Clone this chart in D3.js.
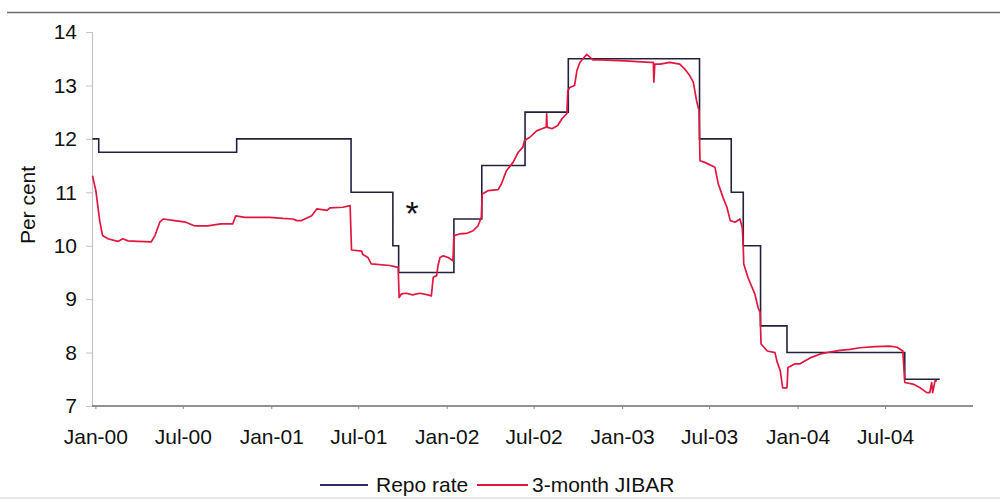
<!DOCTYPE html>
<html>
<head>
<meta charset="utf-8">
<script src="https://cdn.jsdelivr.net/npm/d3@7/dist/d3.min.js"></script>
<style>
  html, body { margin: 0; padding: 0; background: #fff; }
  svg { display: block; }
  text { font-family: "Liberation Sans", Arial, Helvetica, sans-serif; fill: #111; }
</style>
</head>
<body>
<svg id="chart" width="1000" height="502"></svg>
<script>
// ---------- DATA ----------
const yTicks = [7, 8, 9, 10, 11, 12, 13, 14];
const xTickDates = ["2000-01-01","2000-07-01","2001-01-01","2001-07-01","2002-01-01",
                    "2002-07-01","2003-01-01","2003-07-01","2004-01-01","2004-07-01"];
const xTickLabels = ["Jan-00","Jul-00","Jan-01","Jul-01","Jan-02","Jul-02","Jan-03","Jul-03","Jan-04","Jul-04"];
const seriesNames = ["Repo rate", "3-month JIBAR"];

// Repo rate: date of change, new rate (step function)
const repoDates = ["1999-12-26","2000-01-08","2000-10-21","2001-06-16","2001-09-11","2001-09-23",
                   "2002-01-16","2002-03-15","2002-06-13","2002-09-11","2003-06-11","2003-08-16",
                   "2003-09-10","2003-10-16","2003-12-10","2004-08-11","2004-10-23"];
const repoValues = [12, 11.75, 12, 11, 10, 9.5, 10.5, 11.5, 12.5, 13.5, 12, 11, 10, 8.5, 8, 7.5, 7.5];

// 3-month JIBAR
const jibarDates = [
 "1999-12-26","2000-01-02","2000-01-10","2000-01-16","2000-01-27","2000-02-17","2000-02-27","2000-03-09",
 "2000-03-29","2000-04-26","2000-05-04","2000-05-14","2000-05-21","2000-06-14","2000-07-07","2000-07-26",
 "2000-08-22","2000-09-18","2000-10-13","2000-10-19","2000-11-07","2000-12-04","2000-12-29","2001-01-25",
 "2001-02-15","2001-02-23","2001-03-05","2001-03-26","2001-04-06","2001-04-27","2001-05-03","2001-05-30",
 "2001-06-14","2001-06-17","2001-07-08","2001-07-10","2001-07-21","2001-07-28","2001-09-05","2001-09-19",
 "2001-09-22","2001-09-24","2001-09-29","2001-10-09","2001-10-22","2001-11-06","2001-11-23","2001-11-30",
 "2001-12-04","2001-12-11","2001-12-14","2001-12-18","2001-12-25","2002-01-04","2002-01-14","2002-01-16",
 "2002-01-28","2002-02-11","2002-02-25","2002-03-07","2002-03-14","2002-03-16","2002-03-28","2002-04-18",
 "2002-04-25","2002-05-05","2002-05-19","2002-05-30","2002-06-08","2002-06-12","2002-06-23","2002-07-07",
 "2002-07-18","2002-07-27","2002-07-28","2002-07-29","2002-08-08","2002-08-20","2002-08-29","2002-09-08",
 "2002-09-10","2002-09-14","2002-09-24","2002-09-29","2002-10-05","2002-10-19","2002-10-26","2002-11-01",
 "2002-11-16","2003-01-07","2003-02-28","2003-03-07","2003-03-08","2003-03-10","2003-03-21","2003-04-10",
 "2003-05-01","2003-05-12","2003-05-22","2003-05-29","2003-06-05","2003-06-10","2003-06-12","2003-06-22",
 "2003-07-13","2003-07-20","2003-07-30","2003-08-07","2003-08-14","2003-08-24","2003-09-03","2003-09-08",
 "2003-09-10","2003-09-11","2003-09-20","2003-10-04","2003-10-11","2003-10-15","2003-10-16","2003-10-17",
 "2003-10-30","2003-11-15","2003-11-19","2003-11-26","2003-12-01","2003-12-10","2003-12-12","2003-12-27",
 "2004-01-06","2004-01-27","2004-02-16","2004-03-08","2004-03-29","2004-04-19","2004-05-10","2004-06-10",
 "2004-07-11","2004-07-26","2004-08-07","2004-08-11","2004-08-28","2004-09-12","2004-09-26","2004-10-02",
 "2004-10-06","2004-10-08","2004-10-13","2004-10-17"];
const jibarValues = [
 11.31,11.03,10.47,10.19,10.13,10.08,10.13,10.09,
 10.08,10.07,10.19,10.44,10.50,10.47,10.44,10.37,
 10.37,10.41,10.41,10.56,10.53,10.53,10.53,10.51,
 10.50,10.47,10.47,10.56,10.69,10.66,10.71,10.72,
 10.75,9.92,9.90,9.84,9.78,9.66,9.63,9.60,
 9.60,9.03,9.10,9.11,9.08,9.11,9.08,9.06,
 9.41,9.44,9.63,9.78,9.81,9.78,9.72,10.19,
 10.22,10.23,10.28,10.37,10.53,10.97,11.03,11.05,
 11.16,11.40,11.56,11.75,11.84,11.97,12.03,12.15,
 12.19,12.22,12.47,12.22,12.19,12.25,12.38,12.47,
 12.90,12.96,13.00,13.28,13.43,13.58,13.53,13.48,
 13.48,13.46,13.43,13.43,13.06,13.40,13.40,13.43,
 13.40,13.30,13.18,13.06,12.71,12.53,11.59,11.56,
 11.47,11.16,10.90,10.72,10.47,10.44,10.50,10.34,
 9.97,9.66,9.40,9.10,8.84,8.75,8.47,8.16,
 8.03,8.00,7.84,7.66,7.34,7.34,7.72,7.79,
 7.79,7.90,7.97,8.01,8.04,8.06,8.09,8.11,
 8.12,8.10,8.03,7.44,7.41,7.34,7.25,7.25,
 7.44,7.25,7.47,7.47];

const annotationText = "*";
const annotationDate = "2001-10-21";
const annotationValue = 10.39;

// ---------- CHART ----------
const parse = d3.timeParse("%Y-%m-%d");
const repo = repoDates.map((d, i) => ({ date: parse(d), value: repoValues[i] }));
const jibar = jibarDates.map((d, i) => ({ date: parse(d), value: jibarValues[i] }));

const repoColor = "#22223f";
const jibarColor = "#e0173f";

const svg = d3.select("#chart");

// scanned-page frame lines
svg.append("line").attr("x1", 7).attr("x2", 1000).attr("y1", 12.5).attr("y2", 12.5)
   .attr("stroke", "#6a6a6a").attr("stroke-width", 1.4);
svg.append("line").attr("x1", 0).attr("x2", 1000).attr("y1", 498).attr("y2", 498)
   .attr("stroke", "#cfcfcf").attr("stroke-width", 1.2);

const x = d3.scaleTime()
  .domain([parse("1999-12-25"), parse("2004-12-31")])
  .range([92, 973]);
const y = d3.scaleLinear().domain([7, 14]).range([406, 32]);

// Y axis
const yAxis = svg.append("g").attr("transform", "translate(92,0)")
  .call(d3.axisLeft(y).tickValues(yTicks).tickSize(6).tickPadding(9).tickFormat(d3.format("d")));
yAxis.select(".domain").attr("stroke", "#c4c4c4").attr("stroke-width", 1.2);
yAxis.selectAll(".tick line").attr("stroke", "#c4c4c4");
yAxis.selectAll(".tick text").attr("font-size", 21).attr("fill", "#111")
  .attr("font-family", "'Liberation Sans', Arial, sans-serif");

// X axis
const xAxis = svg.append("g").attr("transform", `translate(0,${y(7)})`)
  .call(d3.axisBottom(x).tickValues(xTickDates.map(parse)).tickSize(3)
        .tickFormat((d, i) => xTickLabels[i]));
xAxis.select(".domain").attr("stroke", "#6e6e6e").attr("stroke-width", 1.3)
  .attr("d", `M92,0H973`);
xAxis.selectAll(".tick line").attr("stroke", "#888");
xAxis.selectAll(".tick text").attr("font-size", 21).attr("fill", "#111")
  .attr("y", 38).attr("dy", null)
  .attr("font-family", "'Liberation Sans', Arial, sans-serif");

// Y label
svg.append("text").attr("transform", "translate(35,205) rotate(-90)")
  .attr("text-anchor", "middle").attr("font-size", 21).text("Per cent");

// Lines
const repoLine = d3.line().x(d => x(d.date)).y(d => y(d.value)).curve(d3.curveStepAfter);
const jibarLine = d3.line().x(d => x(d.date)).y(d => y(d.value));

svg.append("path").datum(repo).attr("d", repoLine).attr("fill", "none")
  .attr("stroke", repoColor).attr("stroke-width", 1.6);
svg.append("path").datum(jibar).attr("d", jibarLine).attr("fill", "none")
  .attr("stroke", jibarColor).attr("stroke-width", 1.7).attr("stroke-linejoin", "round");

// Annotation
svg.append("text").attr("x", x(parse(annotationDate))).attr("y", y(annotationValue))
  .attr("text-anchor", "middle").attr("font-size", 34).text(annotationText);

// Legend
const legend = svg.append("g");
const legendItems = [
  { name: seriesNames[0], color: "#2b2b66", x1: 320, x2: 368, tx: 376 },
  { name: seriesNames[1], color: jibarColor, x1: 477, x2: 528, tx: 532 }
];
legendItems.forEach(it => {
  legend.append("line").attr("x1", it.x1).attr("x2", it.x2).attr("y1", 485).attr("y2", 485)
    .attr("stroke", it.color).attr("stroke-width", 1.8);
  legend.append("text").attr("x", it.tx).attr("y", 491.5).attr("font-size", 21).text(it.name);
});
</script>
</body>
</html>
